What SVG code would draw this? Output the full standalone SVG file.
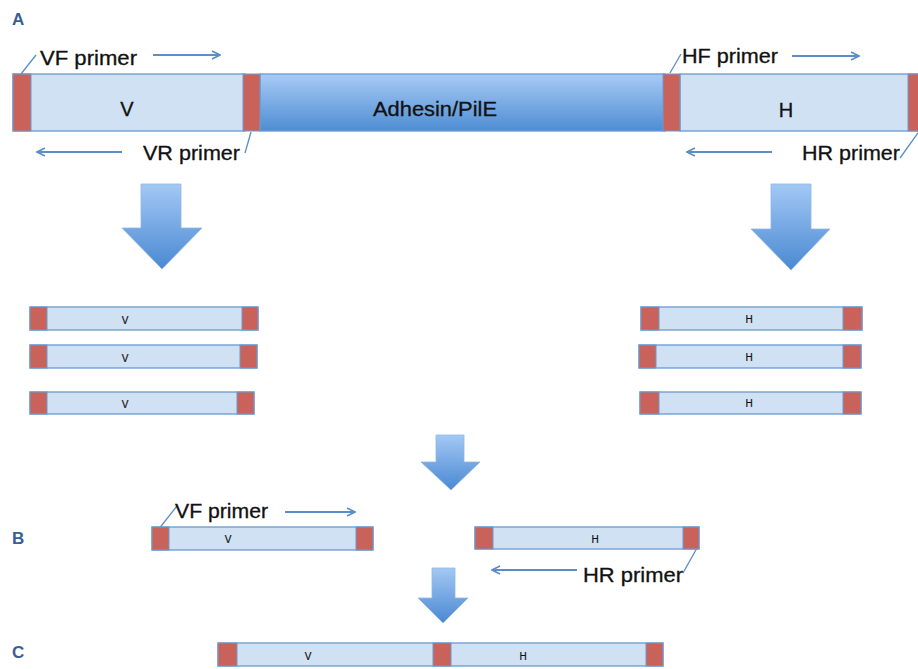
<svg xmlns="http://www.w3.org/2000/svg" width="918" height="669" viewBox="0 0 918 669">
<defs>
<linearGradient id="gBlue" x1="0" y1="0" x2="0" y2="1">
<stop offset="0" stop-color="#a8cbf6"/>
<stop offset="1" stop-color="#4e8dd4"/>
</linearGradient>
<linearGradient id="gArrow" x1="0" y1="0" x2="0" y2="1">
<stop offset="0" stop-color="#a3c8f5"/>
<stop offset="1" stop-color="#4a89d2"/>
</linearGradient>
<marker id="ah" viewBox="0 0 10 10" refX="9" refY="5" markerWidth="10" markerHeight="10" markerUnits="userSpaceOnUse" orient="auto">
<path d="M1,1 L9,5 L1,9" fill="none" stroke="#5b8dc6" stroke-width="1.6"/>
</marker>
</defs>
<style>
.seg{fill:#cfe1f2;stroke:#6a9ad0;stroke-width:1.3}
.red{fill:#c9625a;stroke:#6a9ad0;stroke-width:1}
.adh{fill:url(#gBlue);stroke:#6a9ad0;stroke-width:1.3}
.big{fill:url(#gArrow);stroke:#8fb6e6;stroke-width:0.8}
.lbl{font-family:"Liberation Sans",Arial,sans-serif;font-size:20px;fill:#111;stroke:#111;stroke-width:0.3}
.sm{font-family:"Liberation Sans",Arial,sans-serif;font-size:10px;fill:#111;text-anchor:middle;stroke:#111;stroke-width:0.2}
.mid{font-family:"Liberation Sans",Arial,sans-serif;font-size:20px;fill:#111;text-anchor:middle;stroke:#111;stroke-width:0.3}
.pl{font-family:"Liberation Sans",Arial,sans-serif;font-size:17px;font-weight:bold;fill:#3b5e94}
.ln{stroke:#5b8dc6;stroke-width:2;fill:none}
.lead{stroke:#5b8dc6;stroke-width:1.3;fill:none}
</style>

<text class="pl" x="12" y="25">A</text>
<text class="pl" x="12" y="544">B</text>
<text class="pl" x="12" y="658">C</text>

<g id="top-construct">
<rect class="seg" x="13" y="74" width="232" height="57"/>
<rect class="adh" x="260" y="74" width="405" height="57"/>
<rect class="seg" x="680" y="74" width="245" height="57"/>
<rect class="red" x="13" y="74" width="18" height="57"/>
<rect class="red" x="243" y="74" width="17" height="57"/>
<rect class="red" x="663" y="74" width="17" height="57"/>
<rect class="red" x="908" y="74" width="14" height="57"/>
<text class="mid" x="127" y="116">V</text>
<text class="mid" x="435" y="116" textLength="124" lengthAdjust="spacingAndGlyphs">Adhesin/PilE</text>
<text class="mid" x="786" y="117">H</text>
</g>

<g id="labels-top">
<text class="lbl" x="40" y="65" textLength="97" lengthAdjust="spacingAndGlyphs">VF primer</text>
<text class="lbl" x="143" y="160" textLength="97" lengthAdjust="spacingAndGlyphs">VR primer</text>
<text class="lbl" x="682" y="63" textLength="96" lengthAdjust="spacingAndGlyphs">HF primer</text>
<text class="lbl" x="802" y="160" textLength="98" lengthAdjust="spacingAndGlyphs">HR primer</text>
</g>

<g id="connectors">
<line class="ln" x1="153" y1="55" x2="220" y2="55" marker-end="url(#ah)"/>
<line class="ln" x1="122" y1="152" x2="37" y2="152" marker-end="url(#ah)"/>
<line class="ln" x1="792" y1="56" x2="859" y2="56" marker-end="url(#ah)"/>
<line class="ln" x1="772" y1="152" x2="687" y2="152" marker-end="url(#ah)"/>
<line class="ln" x1="285" y1="512" x2="355" y2="512" marker-end="url(#ah)"/>
<line class="ln" x1="577" y1="570" x2="492" y2="570" marker-end="url(#ah)"/>
<line class="lead" x1="36" y1="55" x2="21" y2="74"/>
<line class="lead" x1="251" y1="132" x2="245" y2="153"/>
<line class="lead" x1="670" y1="73" x2="681" y2="54"/>
<line class="lead" x1="900" y1="158" x2="918" y2="133"/>
<line class="lead" x1="177" y1="506" x2="158" y2="530"/>
<line class="lead" x1="683" y1="573" x2="697" y2="548"/>
</g>

<g id="arrow-left">
<path class="big" d="M141,184 H181 V228 H202 L162,269 L122,228 H141 Z"/>
</g>
<g id="arrow-right">
<path class="big" d="M771,184 H811 V229 H830 L791,270 L751,229 H771 Z"/>
</g>
<g id="arrow-mid">
<path class="big" d="M436,435 H464 V462 H480 L451,490 L421,462 H436 Z"/>
</g>
<g id="arrow-c">
<path class="big" d="M432,568 H455 V598 H468 L443,623 L418,598 H432 Z"/>
</g>

<g id="v-copies">
<rect class="seg" x="30" y="307" width="228" height="23"/>
<rect class="red" x="30" y="307" width="17" height="23"/>
<rect class="red" x="242" y="307" width="16" height="23"/>
<text class="sm" x="125" y="324">V</text>
<rect class="seg" x="30" y="345" width="227" height="23"/>
<rect class="red" x="30" y="345" width="17" height="23"/>
<rect class="red" x="240" y="345" width="17" height="23"/>
<text class="sm" x="125" y="362">V</text>
<rect class="seg" x="30" y="392" width="224" height="22"/>
<rect class="red" x="30" y="392" width="17" height="22"/>
<rect class="red" x="237" y="392" width="17" height="22"/>
<text class="sm" x="125" y="408">V</text>
</g>

<g id="h-copies">
<rect class="seg" x="641" y="307" width="221" height="23"/>
<rect class="red" x="641" y="307" width="18" height="23"/>
<rect class="red" x="843" y="307" width="19" height="23"/>
<text class="sm" x="749" y="323">H</text>
<rect class="seg" x="639" y="345" width="222" height="23"/>
<rect class="red" x="639" y="345" width="17" height="23"/>
<rect class="red" x="843" y="345" width="18" height="23"/>
<text class="sm" x="749" y="361">H</text>
<rect class="seg" x="640" y="392" width="221" height="22"/>
<rect class="red" x="640" y="392" width="19" height="22"/>
<rect class="red" x="843" y="392" width="18" height="22"/>
<text class="sm" x="749" y="407">H</text>
</g>

<g id="b-v">
<rect class="seg" x="152" y="527" width="221" height="23"/>
<rect class="red" x="152" y="527" width="17" height="23"/>
<rect class="red" x="356" y="527" width="17" height="23"/>
<text class="sm" x="228" y="543">V</text>
<text class="lbl" x="175" y="518" textLength="93" lengthAdjust="spacingAndGlyphs">VF primer</text>
</g>

<g id="b-h">
<rect class="seg" x="475" y="527" width="224" height="22"/>
<rect class="red" x="475" y="527" width="18" height="22"/>
<rect class="red" x="683" y="527" width="16" height="22"/>
<text class="sm" x="595" y="543">H</text>
<text class="lbl" x="583" y="582" textLength="100" lengthAdjust="spacingAndGlyphs">HR primer</text>
</g>

<g id="c-fused">
<rect class="seg" x="218" y="643" width="445" height="23"/>
<rect class="red" x="218" y="643" width="19" height="23"/>
<rect class="red" x="433" y="643" width="18" height="23"/>
<rect class="red" x="646" y="643" width="17" height="23"/>
<text class="sm" x="308" y="660">V</text>
<text class="sm" x="523" y="660">H</text>
</g>
</svg>
